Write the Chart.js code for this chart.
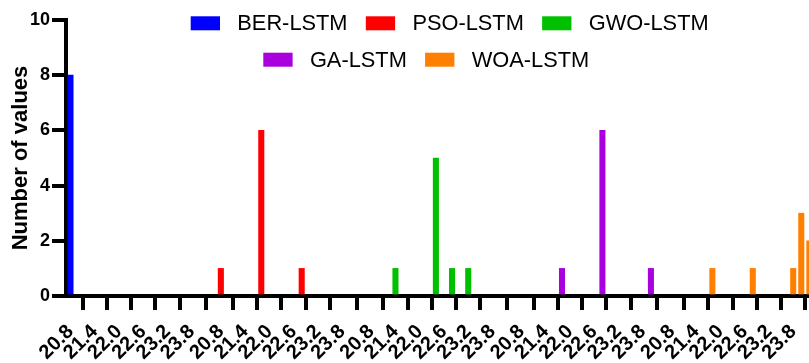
<!DOCTYPE html>
<html>
<head>
<meta charset="utf-8">
<script src="https://cdn.jsdelivr.net/npm/chart.js@4/dist/chart.umd.min.js"></script>
<style>
html,body{margin:0;padding:0;background:#fff;overflow:hidden}
#wrap{position:relative;width:809px;height:363px}
</style>
</head>
<body>
<div id="wrap"><canvas id="c"></canvas></div>
<script>
// ---- data ----
const tickLabels = ['20.8', '21.4', '22.0', '22.6', '23.2', '23.8'];
const tickValues = [20.8, 21.4, 22.0, 22.6, 23.2, 23.8];
const yTicks = [0, 2, 4, 6, 8, 10];
const seriesNames = ['BER-LSTM', 'PSO-LSTM', 'GWO-LSTM', 'GA-LSTM', 'WOA-LSTM'];
const seriesColors = ['#0000ff', '#ff0000', '#00c000', '#aa00dd', '#ff8000'];

const berBins = [20.8];
const berCounts = [8];
const psoBins = [20.8, 21.8, 22.8];
const psoCounts = [1, 6, 1];
const gwoBins = [21.4, 22.4, 22.8, 23.2];
const gwoCounts = [1, 5, 1, 1];
const gaBins = [21.8, 22.8, 24.0];
const gaCounts = [1, 6, 1];
const woaBins = [21.8, 22.8, 23.8, 24.0, 24.2];
const woaCounts = [1, 1, 1, 3, 2];

// ---- layout / style ----
const GROUP_SPAN = 3.72;
const FONT = "'Liberation Sans', Arial, Helvetica, sans-serif";
const allBins = [berBins, psoBins, gwoBins, gaBins, woaBins];
const allCounts = [berCounts, psoCounts, gwoCounts, gaCounts, woaCounts];

const datasets = seriesNames.map((name, g) => ({
  label: name,
  data: allBins[g].map((b, i) => ({ x: b + g * GROUP_SPAN, y: allCounts[g][i] })),
  backgroundColor: seriesColors[g],
  borderWidth: 0,
  barThickness: 5.4,
  grouped: false,
  clip: false
}));

const legendPlugin = {
  id: 'prismLegend',
  afterDraw(chart) {
    const ctx = chart.ctx;
    ctx.save();
    ctx.font = '21.8px ' + FONT;
    ctx.textBaseline = 'alphabetic';
    ctx.textAlign = 'left';
    const rows = [
      { items: [0, 1, 2], x: 190.7, base: 30.3 },
      { items: [3, 4], x: 263.3, base: 66.7 }
    ];
    rows.forEach(r => {
      let x = r.x;
      r.items.forEach(i => {
        const ds = chart.data.datasets[i];
        ctx.fillStyle = ds.backgroundColor;
        ctx.fillRect(x, r.base - 14, 29.3, 14);
        ctx.fillStyle = '#000';
        ctx.fillText(ds.label, x + 46.6, r.base);
        x += 46.6 + ctx.measureText(ds.label).width + 18.3;
      });
    });
    ctx.restore();
  }
};

new Chart(document.getElementById('c'), {
  type: 'bar',
  data: { datasets },
  plugins: [legendPlugin],
  options: {
    responsive: true,
    maintainAspectRatio: false,
    devicePixelRatio: 1,
    animation: false,
    layout: { padding: { top: 20, right: 0, bottom: 0, left: 0 } },
    plugins: { legend: { display: false }, tooltip: { enabled: false } },
    scales: {
      x: {
        type: 'linear',
        min: 20.689,
        max: 39.071,
        offset: false,
        afterBuildTicks: s => {
          const t = [];
          for (let g = 0; g < seriesNames.length; g++) {
            tickValues.forEach(v => t.push({ value: v + g * GROUP_SPAN }));
          }
          s.ticks = t;
        },
        ticks: {
          autoSkip: false,
          minRotation: 45,
          maxRotation: 45,
          padding: 10,
          color: '#000',
          font: { family: FONT, size: 20, weight: 'bold' },
          callback: (v, i) => tickLabels[i % tickLabels.length]
        },
        grid: { drawOnChartArea: false, drawTicks: true, tickLength: 14, tickWidth: 4, lineWidth: 4, tickColor: '#000' },
        border: { display: true, width: 4, color: '#000' },
        afterFit: s => { s.height = 67; s.paddingLeft = 0; s.paddingRight = 0; }
      },
      y: {
        min: 0,
        max: 10,
        afterBuildTicks: s => { s.ticks = yTicks.map(v => ({ value: v })); },
        ticks: { padding: 2, color: '#000', font: { family: FONT, size: 18, weight: 'bold' } },
        grid: { drawOnChartArea: false, drawTicks: true, tickLength: 14, tickWidth: 4, lineWidth: 4, tickColor: '#000' },
        border: { display: true, width: 4, color: '#000' },
        title: {
          display: true,
          text: 'Number of values',
          color: '#000',
          font: { family: FONT, size: 22, weight: 'bold' },
          padding: { top: 8, bottom: 0 }
        },
        afterFit: s => { s.width = 66; }
      }
    }
  }
});
</script>
</body>
</html>
